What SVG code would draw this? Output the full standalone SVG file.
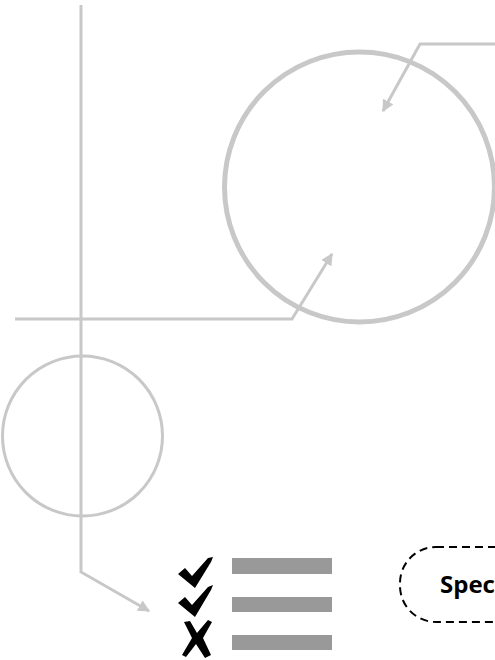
<svg xmlns="http://www.w3.org/2000/svg" width="495" height="660" viewBox="0 0 495 660">
<defs>
<marker id="ah" viewBox="0 0 10 10" refX="9" refY="5" markerWidth="4" markerHeight="4" orient="auto" markerUnits="strokeWidth">
<path d="M0,0 L10,5 L0,10 Z" fill="#c8c8c8"/>
</marker>
<style>
.conn{fill:none;stroke:#c8c8c8;stroke-width:3;stroke-linejoin:miter}
.bar{fill:#999999}
.mark{fill:#000}
</style>
</defs>
<rect width="495" height="660" fill="#fff"/>
<g id="big-circle"><circle cx="359.5" cy="187" r="135" fill="none" stroke="#c8c8c8" stroke-width="5"/></g>
<g id="small-circle"><circle cx="82.5" cy="436" r="80" fill="none" stroke="#c8c8c8" stroke-width="3"/></g>
<g id="connectors">
<polyline class="conn" points="495,44 420,44 383,111" marker-end="url(#ah)"/>
<polyline class="conn" points="15,319 292,319 332,254" marker-end="url(#ah)"/>
<polyline class="conn" points="81,5 81,572 149,611" marker-end="url(#ah)"/>
</g>
<g id="checklist">
<path class="mark" d="M178,574 L185,568 L192,576 L208,558 L213,557 L211,562 L195,588 Z"/>
<path class="mark" d="M178,603 L185,597 L192,605 L208,587 L213,585 L211,590 L195,617 Z"/>
<path class="mark" d="M184,622 L190,621 L197,633 L208,620 L212,622 L203,638 L211,655 L205,658 L196,644 L186,657 L182,655 L192,638 Z"/>
<rect class="bar" x="232" y="558" width="100" height="16"/>
<rect class="bar" x="232" y="597" width="100" height="15"/>
<rect class="bar" x="232" y="635" width="100" height="15"/>
</g>
<g id="spec">
<rect x="400" y="547" width="140" height="75" rx="36" ry="36" fill="none" stroke="#000" stroke-width="2" stroke-dasharray="8,5"/>
<text x="440" y="593" font-family="Open Sans, Liberation Sans, sans-serif" font-weight="bold" font-size="24" fill="#000">Spec</text>
</g>
</svg>
